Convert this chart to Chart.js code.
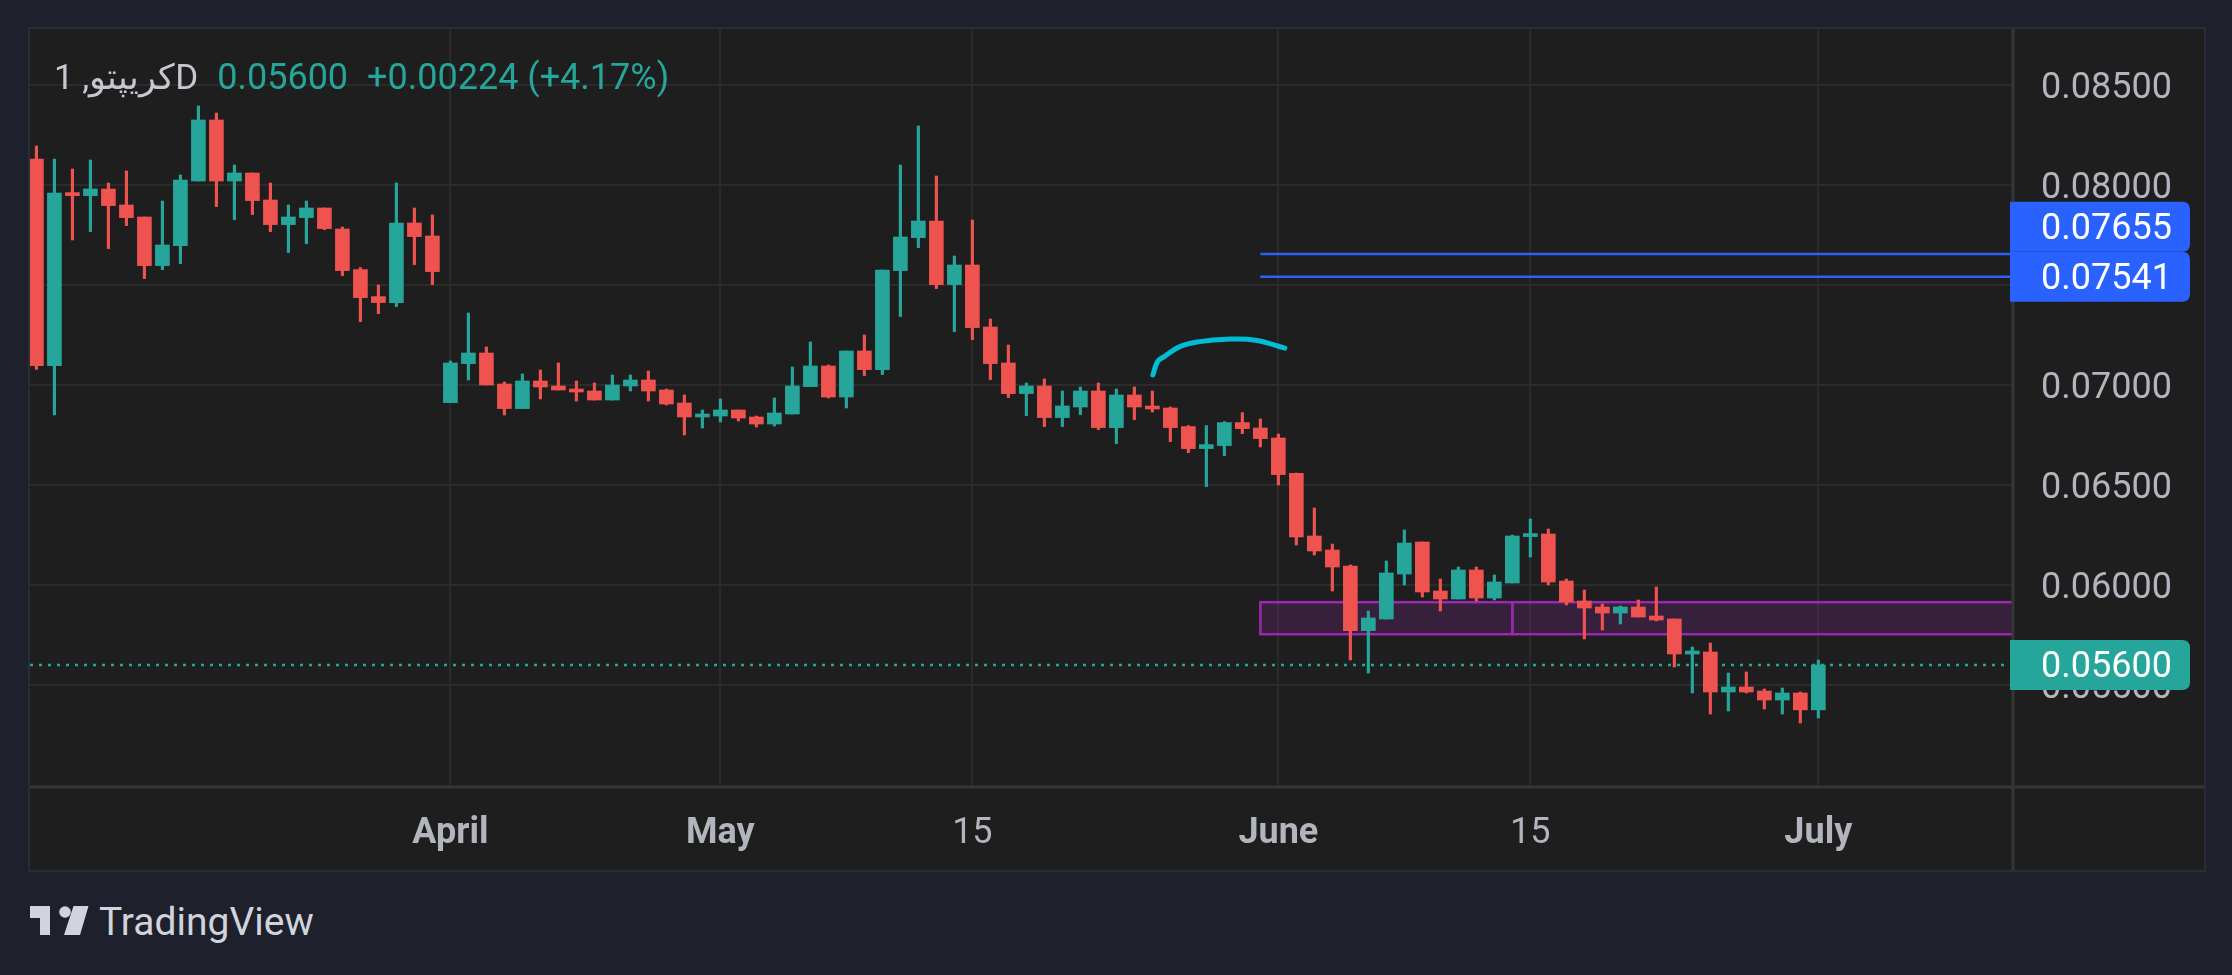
<!DOCTYPE html>
<html>
<head>
<meta charset="utf-8">
<script src="https://cdn.jsdelivr.net/npm/chart.js@4.4.0/dist/chart.umd.min.js"></script>
<style>
  html, body { margin: 0; padding: 0; width: 2232px; height: 975px; overflow: hidden; background: #1e212c; font-family: Roboto, "Noto Sans", sans-serif; }
  #panel { position: absolute; left: 30px; top: 29px; width: 2174px; height: 841px; background: #1e1e1e; box-shadow: 0 0 0 2px #2a2d36; }
  #legend { position: absolute; left: 24px; top: 30px; font-size: 36px; line-height: 1; white-space: nowrap; }
  #legend .sym { color: #c5c8d0; margin-right: 19px; font-size: 35px; }
  #legend .val { color: #26a69a; margin-right: 19px; }
  #logo { position: absolute; left: 30px; top: 903px; height: 40px; }
  #logo svg { position: absolute; left: 0; top: 3px; }
  #logo span { position: absolute; left: 69px; top: 0; font-size: 39px; line-height: 1; color: #d1d4dc; white-space: nowrap; }
</style>
</head>
<body>
<div id="panel">
  <canvas id="chart"></canvas>
  <div id="legend"><span class="sym">كريپتو, 1D</span><span class="val">0.05600</span><span class="val">+0.00224 (+4.17%)</span></div>
</div>
<div id="logo">
  <svg width="60" height="30" viewBox="0 0 60 30">
    <polygon points="0,0 20,0 20,29 10,29 10,12 0,12" fill="#d1d4dc"/>
    <circle cx="35" cy="6" r="5.8" fill="#d1d4dc"/>
    <polygon points="43.5,0 58.5,0 50,29 34,29" fill="#d1d4dc"/>
  </svg>
  <span>TradingView</span>
</div>
<script>
// Colores del gráfico
const UP = '#26a69a';
const DOWN = '#ef5350';
const BLUE = '#2962ff';

// Velas diarias (apertura, máximo, mínimo, cierre)
const opens = [0.08130, 0.07097, 0.07960, 0.07947, 0.07980, 0.07900, 0.07840, 0.07597, 0.07697, 0.08020,
  0.08325, 0.08020, 0.08060, 0.07925, 0.07802, 0.07837, 0.07885, 0.07780, 0.07577, 0.07442,
  0.07412, 0.07810, 0.07745, 0.06912, 0.07107, 0.07160, 0.07005, 0.06882, 0.07020, 0.06995,
  0.06980, 0.06970, 0.06925, 0.06995, 0.07025, 0.06975, 0.06910, 0.06840, 0.06845, 0.06875,
  0.06840, 0.06805, 0.06855, 0.06992, 0.07095, 0.06940, 0.07170, 0.07077, 0.07572, 0.07737,
  0.07820, 0.07502, 0.07600, 0.07290, 0.07110, 0.06957, 0.06995, 0.06837, 0.06890, 0.06970,
  0.06787, 0.06950, 0.06895, 0.06885, 0.06792, 0.06682, 0.06697, 0.06812, 0.06785, 0.06735,
  0.06558, 0.06245, 0.06175, 0.06095, 0.05772, 0.05830, 0.06055, 0.06215, 0.05970, 0.05930,
  0.06075, 0.05935, 0.06010, 0.06242, 0.06255, 0.06020, 0.05920, 0.05890, 0.05860, 0.05890,
  0.05845, 0.05830, 0.05655, 0.05665, 0.05465, 0.05490, 0.05470, 0.05425, 0.05460, 0.05376];
const highs = [0.08195, 0.08130, 0.08080, 0.08125, 0.08010, 0.08070, 0.07840, 0.07920, 0.08050, 0.08395,
  0.08360, 0.08100, 0.08060, 0.08010, 0.07900, 0.07920, 0.07885, 0.07790, 0.07587, 0.07500,
  0.08010, 0.07885, 0.07850, 0.07120, 0.07360, 0.07190, 0.07015, 0.07055, 0.07075, 0.07110,
  0.07020, 0.07010, 0.07050, 0.07050, 0.07070, 0.06980, 0.06950, 0.06875, 0.06930, 0.06875,
  0.06845, 0.06935, 0.07090, 0.07215, 0.07100, 0.07170, 0.07250, 0.07575, 0.08100, 0.08295,
  0.08045, 0.07645, 0.07825, 0.07330, 0.07200, 0.07010, 0.07030, 0.06970, 0.06990, 0.07010,
  0.06980, 0.06990, 0.06970, 0.06890, 0.06797, 0.06797, 0.06817, 0.06862, 0.06830, 0.06755,
  0.06560, 0.06385, 0.06205, 0.06100, 0.05870, 0.06120, 0.06275, 0.06215, 0.06030, 0.06090,
  0.06090, 0.06050, 0.06250, 0.06330, 0.06280, 0.06030, 0.05975, 0.05905, 0.05895, 0.05925,
  0.05990, 0.05830, 0.05690, 0.05710, 0.05560, 0.05565, 0.05480, 0.05485, 0.05465, 0.05625];
const lows = [0.07078, 0.06850, 0.07725, 0.07767, 0.07682, 0.07797, 0.07532, 0.07577, 0.07607, 0.08020,
  0.07892, 0.07827, 0.07852, 0.07767, 0.07662, 0.07707, 0.07777, 0.07547, 0.07317, 0.07357,
  0.07392, 0.07602, 0.07502, 0.06912, 0.07025, 0.07000, 0.06850, 0.06882, 0.06930, 0.06975,
  0.06920, 0.06925, 0.06925, 0.06970, 0.06920, 0.06900, 0.06750, 0.06785, 0.06815, 0.06820,
  0.06790, 0.06795, 0.06855, 0.06992, 0.06935, 0.06885, 0.07047, 0.07052, 0.07342, 0.07687,
  0.07482, 0.07267, 0.07227, 0.07027, 0.06937, 0.06847, 0.06792, 0.06792, 0.06852, 0.06777,
  0.06707, 0.06827, 0.06865, 0.06717, 0.06662, 0.06492, 0.06647, 0.06757, 0.06690, 0.06500,
  0.06200, 0.06150, 0.05970, 0.05625, 0.05560, 0.05830, 0.06000, 0.05940, 0.05870, 0.05930,
  0.05920, 0.05925, 0.06010, 0.06140, 0.06000, 0.05900, 0.05730, 0.05775, 0.05805, 0.05840,
  0.05820, 0.05590, 0.05460, 0.05355, 0.05370, 0.05460, 0.05380, 0.05355, 0.05310, 0.05335];
const closes = [0.07097, 0.07960, 0.07947, 0.07980, 0.07897, 0.07837, 0.07597, 0.07700, 0.08025, 0.08325,
  0.08020, 0.08060, 0.07922, 0.07802, 0.07840, 0.07885, 0.07782, 0.07572, 0.07437, 0.07412,
  0.07810, 0.07742, 0.07567, 0.07110, 0.07160, 0.07000, 0.06882, 0.07020, 0.06990, 0.06975,
  0.06965, 0.06925, 0.07000, 0.07025, 0.06970, 0.06905, 0.06840, 0.06850, 0.06875, 0.06835,
  0.06805, 0.06860, 0.06995, 0.07095, 0.06940, 0.07170, 0.07077, 0.07575, 0.07740, 0.07820,
  0.07502, 0.07600, 0.07287, 0.07107, 0.06957, 0.06995, 0.06837, 0.06895, 0.06970, 0.06787,
  0.06950, 0.06890, 0.06880, 0.06787, 0.06682, 0.06702, 0.06812, 0.06782, 0.06732, 0.06552,
  0.06240, 0.06170, 0.06090, 0.05772, 0.05835, 0.06060, 0.06210, 0.05965, 0.05930, 0.06075,
  0.05935, 0.06015, 0.06245, 0.06255, 0.06015, 0.05915, 0.05885, 0.05860, 0.05890, 0.05840,
  0.05825, 0.05655, 0.05667, 0.05465, 0.05490, 0.05465, 0.05425, 0.05460, 0.05376, 0.05600];

// Etiquetas del eje de tiempo (índice de vela y texto)
const tickIndex = [23, 38, 52, 69, 83, 99];
const tickLabels = ['April', 'May', '15', 'June', '15', 'July'];
const monthNames = ['April', 'May', 'June', 'July'];

// Etiquetas del eje de precios
const priceTicks = [0.055, 0.060, 0.065, 0.070, 0.075, 0.080, 0.085];

// Dibujos: líneas horizontales, zona de soporte y trazo a mano
const levelPrices = [0.07655, 0.07541];
const levelStart = 68;
const lastPrice = 0.05600;
const zoneStart = [68, 82];
const zoneEnd = [82, null];
const zoneTop = 0.05914;
const zoneBottom = 0.05754;
const arcX = [62.03, 62.29, 62.66, 63.53, 64.64, 66.13, 67.74, 69.36];
const arcY = [0.07050, 0.07117, 0.07142, 0.07192, 0.07217, 0.07229, 0.07224, 0.07184];

const X_MIN = -0.356;
const X_MAX = 109.76;

const idx = opens.map((_, i) => i);
const candleColors = idx.map(i => closes[i] >= opens[i] ? UP : DOWN);

// Zona morada debajo de las velas
const zonesPlugin = {
  id: 'zones',
  beforeDatasetsDraw(chart) {
    const { ctx, chartArea, scales } = chart;
    const top = scales.y.getPixelForValue(zoneTop);
    const bot = scales.y.getPixelForValue(zoneBottom);
    ctx.save();
    ctx.beginPath();
    ctx.rect(chartArea.left, chartArea.top, chartArea.width, chartArea.height);
    ctx.clip();
    for (let i = 0; i < zoneStart.length; i++) {
      const x0 = scales.x.getPixelForValue(zoneStart[i]);
      const x1 = zoneEnd[i] === null ? chartArea.right + 10 : scales.x.getPixelForValue(zoneEnd[i]);
      ctx.fillStyle = 'rgba(156, 39, 176, 0.2)';
      ctx.fillRect(x0, top, x1 - x0, bot - top);
      ctx.strokeStyle = '#9c27b0';
      ctx.lineWidth = 2.5;
      ctx.strokeRect(x0, top, x1 - x0, bot - top);
    }
    ctx.restore();
  }
};

// Separadores de ejes y etiquetas de precio
const axisPlugin = {
  id: 'axisDeco',
  afterDraw(chart) {
    const { ctx, chartArea, width, height, scales } = chart;
    ctx.save();
    ctx.strokeStyle = '#363636';
    ctx.lineWidth = 3;
    ctx.beginPath();
    ctx.moveTo(chartArea.right + 1, 0);
    ctx.lineTo(chartArea.right + 1, height);
    ctx.moveTo(0, chartArea.bottom + 1);
    ctx.lineTo(width, chartArea.bottom + 1);
    ctx.stroke();

    const h = 50;
    const labels = levelPrices.map(p => ({ p: p, c: BLUE }));
    labels.push({ p: lastPrice, c: UP });
    labels.forEach(l => { l.y = scales.y.getPixelForValue(l.p); });
    labels.sort((a, b) => b.y - a.y);
    for (let i = 1; i < labels.length; i++) {
      if (labels[i].y > labels[i - 1].y - h) labels[i].y = labels[i - 1].y - h;
    }
    const x0 = chartArea.right - 2;
    const w = 180;
    const r = 8;
    labels.forEach(l => {
      const t = l.y - h / 2;
      ctx.fillStyle = l.c;
      ctx.beginPath();
      ctx.moveTo(x0, t);
      ctx.lineTo(x0 + w - r, t);
      ctx.quadraticCurveTo(x0 + w, t, x0 + w, t + r);
      ctx.lineTo(x0 + w, t + h - r);
      ctx.quadraticCurveTo(x0 + w, t + h, x0 + w - r, t + h);
      ctx.lineTo(x0, t + h);
      ctx.closePath();
      ctx.fill();
      ctx.fillStyle = '#ffffff';
      ctx.font = '36px Roboto';
      ctx.textBaseline = 'middle';
      ctx.textAlign = 'left';
      ctx.fillText(l.p.toFixed(5), chartArea.right + 29, l.y + 3);
    });
    ctx.restore();
  }
};

const datasets = [
  {
    type: 'line',
    data: [{ x: X_MIN, y: lastPrice }, { x: X_MAX, y: lastPrice }],
    borderColor: UP, borderWidth: 2.5, borderDash: [3, 6],
    pointRadius: 0, clip: 0, order: 5
  },
  {
    type: 'bar',
    data: idx.map(i => ({ x: i, y: [lows[i], highs[i]] })),
    backgroundColor: candleColors,
    barThickness: 2.5, grouped: false, order: 4
  },
  {
    type: 'bar',
    data: idx.map(i => ({ x: i, y: [opens[i], closes[i]] })),
    backgroundColor: candleColors,
    barThickness: 14, minBarLength: 3, grouped: false, order: 3
  },
  {
    type: 'line',
    data: arcX.map((x, i) => ({ x: x, y: arcY[i] })),
    borderColor: '#00bcd4', borderWidth: 5, tension: 0.4,
    borderCapStyle: 'round', borderJoinStyle: 'round',
    pointRadius: 0, order: 1
  }
];
levelPrices.forEach(p => {
  datasets.push({
    type: 'line',
    data: [{ x: levelStart, y: p }, { x: X_MAX + 5, y: p }],
    borderColor: BLUE, borderWidth: 2.5, pointRadius: 0, clip: 0, order: 2
  });
});

new Chart(document.getElementById('chart'), {
  type: 'bar',
  data: { datasets: datasets },
  options: {
    responsive: true,
    maintainAspectRatio: false,
    animation: false,
    layout: { padding: 0, autoPadding: false },
    plugins: { legend: { display: false }, tooltip: { enabled: false } },
    scales: {
      x: {
        type: 'linear',
        min: X_MIN,
        max: X_MAX,
        offset: false,
        afterBuildTicks: axis => { axis.ticks = tickIndex.map(v => ({ value: v })); },
        afterFit: axis => {
          axis.height = 84;
          axis.paddingLeft = 0;
          axis.paddingRight = 0;
        },
        grid: { color: '#2b2b2b', lineWidth: 2, drawTicks: false, offset: false },
        border: { display: false },
        ticks: {
          autoSkip: false,
          maxRotation: 0,
          padding: 26,
          color: '#b2b5be',
          font: ctx => ({ family: 'Roboto', size: 36, weight: monthNames.includes(tickLabels[ctx.index]) ? 'bold' : 'normal' }),
          callback: (v, i) => tickLabels[i]
        }
      },
      y: {
        type: 'linear',
        position: 'right',
        min: 0.04995,
        max: 0.0878,
        beginAtZero: false,
        afterBuildTicks: axis => { axis.ticks = priceTicks.map(v => ({ value: v })); },
        afterFit: axis => {
          axis.width = 192;
          axis.paddingTop = 0;
          axis.paddingBottom = 0;
        },
        grid: { color: '#2b2b2b', lineWidth: 2, drawTicks: false },
        border: { display: false },
        ticks: {
          padding: 29,
          labelOffset: 4,
          color: '#b2b5be',
          font: { family: 'Roboto', size: 36 },
          callback: v => v.toFixed(5)
        }
      }
    }
  },
  plugins: [zonesPlugin, axisPlugin]
});
</script>
</body>
</html>
